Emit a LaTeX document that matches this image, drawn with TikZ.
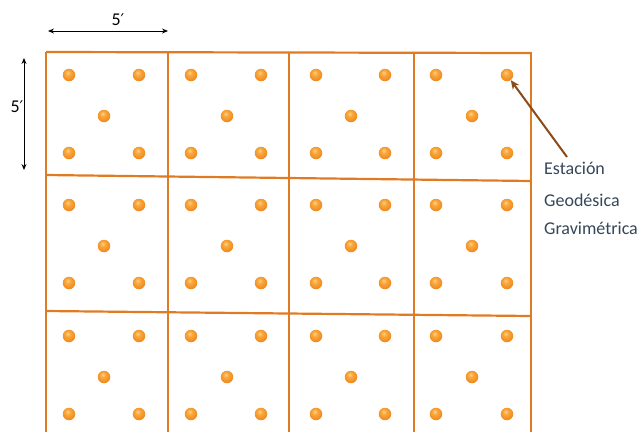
\documentclass[tikz,border=0pt]{standalone}
\usepackage{fontspec}
\setmainfont{Carlito}
\newfontfamily\dvsans{DejaVu Sans}
\usetikzlibrary{arrows.meta}
\definecolor{gridor}{HTML}{E07B24}
\definecolor{arrbrown}{HTML}{8A4A1C}
\definecolor{txt}{HTML}{35475A}
\pgfdeclareradialshading{orball}{\pgfpoint{-6bp}{10bp}}{%
  color(0bp)=(rgb,255:red,255;green,214;blue,140);
  color(10bp)=(rgb,255:red,250;green,168;blue,60);
  color(30bp)=(rgb,255:red,238;green,134;blue,28);
  color(48bp)=(rgb,255:red,205;green,100;blue,20);
  color(62bp)=(rgb,255:red,170;green,80;blue,20)}
\begin{document}
\begin{tikzpicture}[x=1pt,y=-1pt,
  gridline/.style={draw=gridor,line width=2.2pt},
  station/.style={circle,inner sep=0pt,minimum size=12.5pt,shading=orball},
  dimarrow/.style={{Stealth[length=6pt,width=5pt]}-{Stealth[length=6pt,width=5pt]},line width=0.9pt,black},
  lbl/.style={font=\fontsize{18}{18}\selectfont,text=black},
  legend/.style={font=\fontsize{18}{18}\selectfont,text=txt,anchor=west,inner sep=0pt}]
\useasboundingbox[fill=white] (0,0) rectangle (644,432);
% grid
\draw[gridline] (46,52) -- (531,53);
\draw[gridline] (46,175) -- (531,181);
\draw[gridline] (46,311) -- (531,316);
\foreach \x in {46,168,289,414,531} \draw[gridline] (\x,52) -- (\x,432);
% stations
\foreach \r/\ya/\yb/\yc in {1/75/153/116,2/205/283/246,3/336/414/377}{
  \foreach \c/\xa/\xb/\xc in {1/69/139/104,2/191/261/227,3/316/385/351,4/436/507/472}{
    \node[station] (s\r\c a) at (\xa,\ya) {};
    \node[station] (s\r\c b) at (\xb,\ya) {};
    \node[station] (s\r\c c) at (\xc,\yc) {};
    \node[station] (s\r\c d) at (\xa,\yb) {};
    \node[station] (s\r\c e) at (\xb,\yb) {};
  }
}
% dimension arrows
\coordinate (hL) at (48,31);
\coordinate (hR) at (168,31);
\draw[dimarrow] (hL) -- (hR);
\node[lbl] (h5) at (118,20) {5{\dvsans\fontsize{16}{16}\selectfont ′}};
\coordinate (vT) at (24,58);
\coordinate (vB) at (24,170);
\draw[dimarrow] (vT) -- (vB);
\node[lbl] (v5) at (17,107) {5{\dvsans\fontsize{16}{16}\selectfont ′}};
% legend
\node[legend] (t1) at (544,168) {Estación};
\node[legend] (t2) at (544,200) {Geodésica};
\node[legend] (t3) at (544,228) {Gravimétrica};
\coordinate (astart) at (567,157);
\draw[arrbrown,line width=2pt,-{Stealth[length=9pt,width=8pt]}] (astart) -- (s14b);
\end{tikzpicture}
\end{document}
